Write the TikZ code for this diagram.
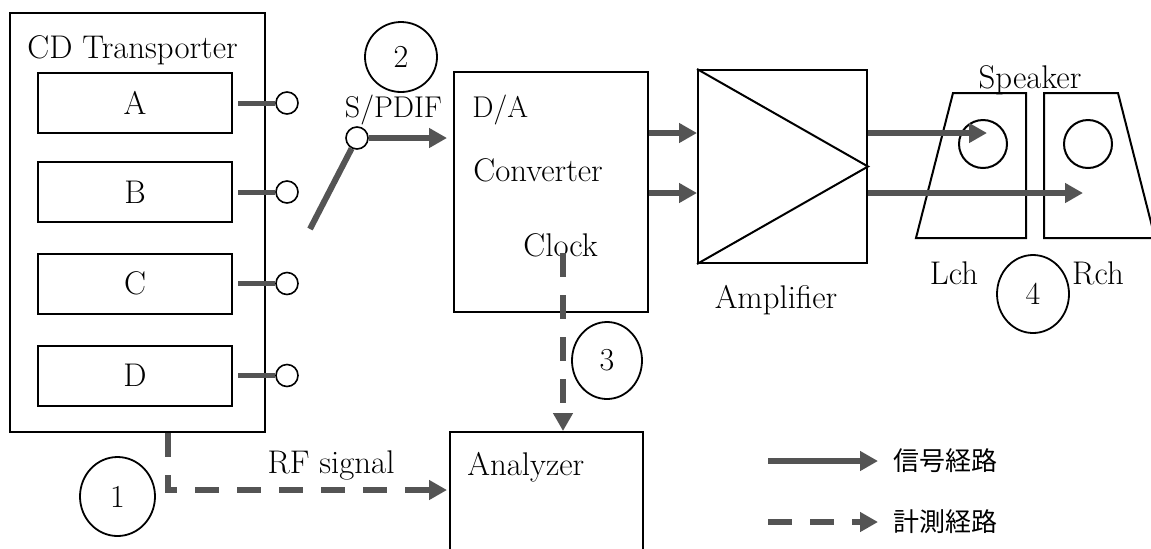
\documentclass[tikz,border=0pt]{standalone}
\usepackage{fontspec}
\newfontfamily\cjk{Noto Sans CJK JP}
\usetikzlibrary{arrows.meta,shapes.geometric}
\definecolor{sig}{rgb}{0.33,0.33,0.33}
\tikzset{
  lbl/.style={font=\fontsize{16.4}{19}\selectfont, inner sep=0pt},
  slbl/.style={font=\fontsize{15}{18}\selectfont, inner sep=0pt},
  cjkl/.style={font=\cjk\fontsize{13}{15}\selectfont, inner sep=0pt},
  boxn/.style={draw, line width=1pt, inner sep=0pt},
  sub/.style={boxn, lbl, minimum width=97pt, minimum height=30pt},
  num/.style={draw, ellipse, line width=0.9pt, inner sep=0pt, font=\fontsize{16}{16}\selectfont},
  port/.style={draw, circle, line width=0.8pt, minimum size=11pt, inner sep=0pt, fill=white},
  stub/.style={draw=sig, line width=2.5pt},
  sigline/.style={draw=sig, line width=2.8pt, -{Triangle[length=9pt,width=9.5pt]}},
  measline/.style={sigline, dash pattern=on 12pt off 9pt},
}
\begin{document}
\begin{tikzpicture}[x=0.5pt,y=-0.5pt]
\clip (0,0) rectangle (1151,548);
% CD transporter
\node[boxn, minimum width=127.5pt, minimum height=209.5pt] (cd) at (137.5,222.5) {};
\node[lbl, anchor=west] (cdt) at (27,50) {CD Transporter};
\node[sub] (A) at (135,103) {A};
\node[sub] (B) at (135,192) {B};
\node[sub] (C) at (135,283.5) {C};
\node[sub] (D) at (135,375.5) {D};
\foreach \n/\y in {A/103,B/192,C/283.5,D/375.5}{
  \node[port] (p\n) at (287,\y) {};
  \draw[stub] ([xshift=2.5pt]\n.east) -- (p\n);
}
% switch
\node[port] (sw) at (357,138) {};
\coordinate (lev) at (310,229);
\draw[stub, line width=3pt] (lev) -- (sw);
\node[slbl] (spdif) at (393.5,110) {S/PDIF};
\node[num, minimum width=36pt, minimum height=35pt] (c2) at (401,57) {2};
% D/A converter
\node[boxn, minimum width=97pt, minimum height=120pt] (da) at (551,192) {};
\node[slbl, anchor=west] (dat) at (472,110) {D/A};
\node[lbl, anchor=west] (conv) at (473,170) {Converter};
\node[lbl, anchor=west] (clock) at (523,245) {Clock};
\draw[sigline, shorten >=3pt] (sw) -- (sw -| da.west);
% amplifier
\node[boxn, minimum width=84.5pt, minimum height=96.5pt] (amp) at (782.5,166.5) {};
\draw[line width=1pt] (amp.north west) -- (amp.east) -- (amp.south west);
\node[lbl] (ampt) at (776,300) {Amplifier};
\coordinate (r1) at (0,133);
\coordinate (r2) at (0,193);
\draw[sigline] (da.east |- r1) -- (amp.west |- r1);
\draw[sigline] (da.east |- r2) -- (amp.west |- r2);
% speakers
\draw[line width=1pt] (953,93) -- (1026,93) -- (1026,238) -- (916,238) -- cycle;
\draw[line width=1pt] (1044,93) -- (1118,93) -- (1155,238) -- (1044,238) -- cycle;
\node[draw, circle, line width=1pt, minimum size=24pt, inner sep=0pt] (spL) at (983,144) {};
\node[draw, circle, line width=1pt, minimum size=24pt, inner sep=0pt] (spR) at (1088,144) {};
\node[lbl] (spk) at (1030,80) {Speaker};
\node[lbl] (lch) at (954,273) {Lch};
\node[lbl] (rch) at (1098,273) {Rch};
\node[num, minimum width=36pt, minimum height=39pt] (c4) at (1033,294) {4};
\coordinate (lend) at (987,133);
\coordinate (rend) at (1083,193);
\draw[sigline] (amp.east |- lend) -- (lend);
\draw[sigline] (amp.east |- rend) -- (rend);
% analyzer
\node[boxn, minimum width=96.5pt, minimum height=100pt] (ana) at (546.5,532) {};
\node[lbl, anchor=west] (anat) at (467,467) {Analyzer};
\coordinate (clk) at (563,253);
\draw[measline] (clk) -- (clk |- ana.north);
\node[num, minimum width=35pt, minimum height=38.5pt] (c3) at (607,360.5) {3};
% RF signal
\coordinate (rfc) at (168,490);
\draw[measline, shorten >=1pt] (cd.south -| rfc) -- (rfc) -- (rfc -| ana.west);
\node[lbl] (rft) at (331,465) {RF signal};
\node[num, minimum width=37.5pt, minimum height=39.5pt] (c1) at (117.5,496.5) {1};
% legend
\coordinate (l1) at (768,461);
\coordinate (l2) at (768,522);
\node[cjkl, anchor=west] (t1) at (893,461) {信号経路};
\node[cjkl, anchor=west] (t2) at (893,522) {計測経路};
\draw[sigline, shorten >=7.5pt] (l1) -- (t1.west);
\draw[measline, shorten >=7.5pt] (l2) -- (t2.west);
\end{tikzpicture}
\end{document}
